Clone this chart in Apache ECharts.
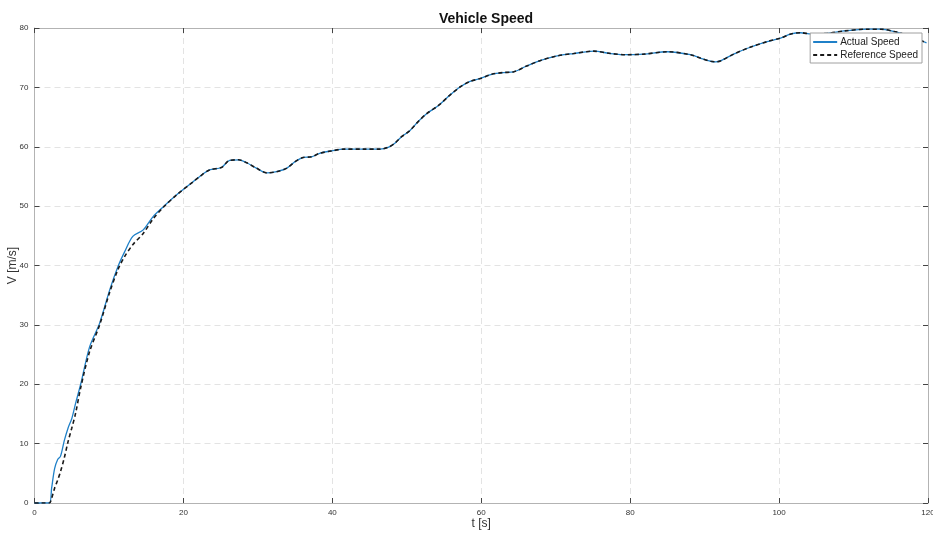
<!DOCTYPE html>
<html>
<head>
<meta charset="utf-8">
<script src="https://cdn.jsdelivr.net/npm/echarts@6/dist/echarts.min.js"></script>
<style>
  html, body { margin: 0; padding: 0; background: #fff; }
  #chart { width: 933px; height: 536px; }
</style>
</head>
<body>
<div id="chart"></div>
<script>
// Time samples [s]
const timeS = [0, 1, 2, 2.3, 2.7, 3.1, 3.5, 4.0, 4.5, 5.0, 5.5, 6.2, 7.4, 8.75, 10.1, 11.2, 12.1, 13.2, 14.6, 15.9,
  17.3, 19.1, 21.3, 22.2, 23.5, 25.1, 26.2, 27.4, 28.5, 29.8, 31.2, 32.5, 33.9, 35.0, 36.1, 37.2, 38.3, 39.9,
  41.5, 44.2, 46.4, 47.5, 48.4, 49.3, 50.4, 51.5, 52.7, 54.3, 55.8, 57.2, 58.5, 59.9, 61.4, 63.0, 64.3, 66.1,
  67.9, 70.2, 72.4, 75.1, 77.4, 79.6, 81.8, 85.0, 88.1, 89.5, 90.8, 91.5, 92.2, 93.9, 96.2, 98.4, 100.2, 101.6,
  102.9, 104.3, 106.5, 108.7, 111.9, 113.7, 115.5, 116.4, 118.0, 119.8];

// Measured vehicle speed [m/s]
const actualSpeed = [0, 0, 0, 2.5, 5.8, 7.3, 7.9, 10.5, 12.6, 14.2, 16.7, 20.0, 26.3, 30.3, 35.9, 39.8, 42.3, 44.9, 46.0, 48.2,
  49.9, 51.9, 54.1, 55.0, 56.1, 56.5, 57.7, 57.8, 57.3, 56.4, 55.6, 55.8, 56.4, 57.5, 58.2, 58.3, 58.9, 59.3,
  59.6, 59.6, 59.6, 59.9, 60.6, 61.7, 62.7, 64.2, 65.6, 67.0, 68.7, 70.1, 71.0, 71.5, 72.2, 72.5, 72.6, 73.6,
  74.5, 75.3, 75.7, 76.1, 75.7, 75.5, 75.6, 76.0, 75.5, 74.9, 74.4, 74.3, 74.5, 75.6, 76.8, 77.7, 78.3, 79.0,
  79.2, 79.0, 79.1, 79.5, 79.8, 79.8, 79.4, 79.1, 78.4, 77.5];

// Reference speed profile [m/s]
const referenceSpeed = [0, 0, 0, 0.8, 2.5, 3.8, 5.3, 7.6, 10.3, 12.6, 15.0, 19.4, 25.5, 30.0, 35.5, 39.3, 41.5, 43.5, 45.4, 47.8,
  49.8, 51.9, 54.1, 55.0, 56.1, 56.5, 57.7, 57.8, 57.3, 56.4, 55.6, 55.8, 56.4, 57.5, 58.2, 58.3, 58.9, 59.3,
  59.6, 59.6, 59.6, 59.9, 60.6, 61.7, 62.7, 64.2, 65.6, 67.0, 68.7, 70.1, 71.0, 71.5, 72.2, 72.5, 72.6, 73.6,
  74.5, 75.3, 75.7, 76.1, 75.7, 75.5, 75.6, 76.0, 75.5, 74.9, 74.4, 74.3, 74.5, 75.6, 76.8, 77.7, 78.3, 79.0,
  79.2, 79.0, 79.1, 79.5, 79.8, 79.8, 79.4, 79.1, 78.4, 77.5];

const xTicks = { min: 0, max: 120, interval: 20 };
const yTicks = { min: 0, max: 80, interval: 10 };

const pairs = (xs, ys) => xs.map((x, i) => [x, ys[i]]);

const FONT = '"Liberation Sans", Arial, Helvetica, sans-serif';
const gridLine = { show: true, lineStyle: { color: '#e3e3e3', type: [6, 4], width: 1 } };
const axisLine = { show: true, onZero: false, lineStyle: { color: '#b3b3b3', width: 1 } };
const axisTick = { show: true, inside: true, length: 5, lineStyle: { color: '#444', width: 1 } };
const tickLabel = { color: '#333', fontSize: 8, fontFamily: FONT, margin: 6 };

const chart = echarts.init(document.getElementById('chart'), null, { renderer: 'canvas' });
chart.setOption({
  animation: false,
  backgroundColor: '#ffffff',
  title: {
    text: 'Vehicle Speed',
    left: 481, top: 7, textAlign: 'center',
    textStyle: { fontFamily: FONT, fontSize: 14, fontWeight: 'bold', color: '#111' }
  },
  grid: { left: 34.5, right: 5, top: 28, bottom: 33, containLabel: false, outerBoundsMode: 'none' },
  legend: {
    orient: 'vertical',
    right: 11, top: 33,
    itemWidth: 24, itemHeight: 10, itemGap: 3,
    padding: [4, 4, 3, 2],
    backgroundColor: '#ffffff',
    borderColor: '#a0a0a0', borderWidth: 1,
    itemStyle: { opacity: 0 },
    textStyle: { fontFamily: FONT, fontSize: 10, color: '#222', padding: [0, 0, 0, -2] },
    data: ['Actual Speed', 'Reference Speed']
  },
  xAxis: [
    {
      type: 'value', position: 'bottom', ...xTicks,
      name: 't [s]', nameLocation: 'middle', nameGap: 15, nameMoveOverlap: false,
      nameTextStyle: { fontFamily: FONT, fontSize: 12, color: '#333' },
      axisLine, axisTick, axisLabel: tickLabel, splitLine: gridLine
    },
    {
      type: 'value', position: 'top', ...xTicks,
      axisLine, axisTick, axisLabel: { show: false }, splitLine: { show: false }
    }
  ],
  yAxis: [
    {
      type: 'value', position: 'left', ...yTicks,
      name: 'V [m/s]', nameLocation: 'middle', nameGap: 16, nameMoveOverlap: false,
      nameTextStyle: { fontFamily: FONT, fontSize: 12, color: '#333' },
      axisLine, axisTick, axisLabel: tickLabel, splitLine: gridLine
    },
    {
      type: 'value', position: 'right', ...yTicks,
      axisLine, axisTick, axisLabel: { show: false }, splitLine: { show: false }
    }
  ],
  series: [
    {
      name: 'Actual Speed', type: 'line',
      data: pairs(timeS, actualSpeed),
      smooth: 0.3, showSymbol: false, symbol: 'none',
      lineStyle: { color: '#1f80c8', width: 1.3 },
      itemStyle: { color: '#1f80c8' },
      z: 2
    },
    {
      name: 'Reference Speed', type: 'line',
      data: pairs(timeS, referenceSpeed),
      smooth: 0.3, showSymbol: false, symbol: 'none',
      lineStyle: { color: '#1a1a1a', width: 1.6, type: [4, 3] },
      itemStyle: { color: '#1a1a1a' },
      z: 3
    }
  ]
});
</script>
</body>
</html>
